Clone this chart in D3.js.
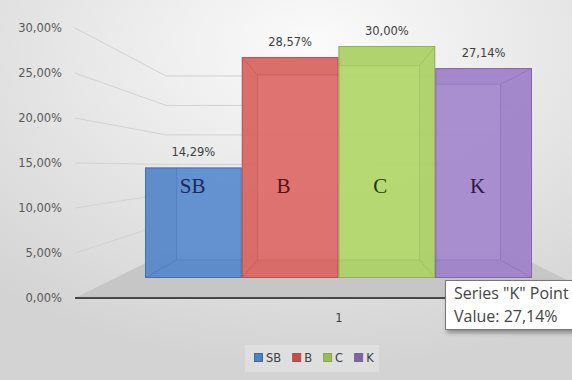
<!DOCTYPE html>
<html>
<head>
<meta charset="utf-8">
<script src="https://cdn.jsdelivr.net/npm/d3@7/dist/d3.min.js"></script>
<style>
  html, body { margin: 0; padding: 0; background: #fff; }
  svg { display: block; }
</style>
</head>
<body>
<div id="chart"></div>
<script>
// ---- data ----
const categories = ["SB", "B", "C", "K"];
const values = [14.29, 28.57, 30.00, 27.14];
const valueLabels = ["14,29%", "28,57%", "30,00%", "27,14%"];
const axisTicks = [0, 5, 10, 15, 20, 25, 30];
const axisTickLabels = ["0,00%", "5,00%", "10,00%", "15,00%", "20,00%", "25,00%", "30,00%"];
const xCategoryLabels = ["1"];
const fillColors = ["#5f8ecf", "#de6d6b", "#b4d76e", "#a68ace"];
const edgeColors = ["#3f69a6", "#b44b48", "#87a94b", "#7b5ea8"];
const legendColors = ["#4f81bd", "#c0504d", "#9bbb59", "#8064a2"];
const inkColors = ["#1b2a5c", "#561212", "#1f380c", "#2a1a40"];
const tooltipLines = ['Series "K" Point', "Value: 27,14%"];

const W = 572, H = 380;
const svg = d3.select("#chart").append("svg").attr("width", W).attr("height", H);

// background
const defs = svg.append("defs");
const bg = defs.append("radialGradient").attr("id", "bg")
  .attr("cx", "55%").attr("cy", "12%").attr("r", "85%");
bg.append("stop").attr("offset", "0%").attr("stop-color", "#fbfbfb");
bg.append("stop").attr("offset", "100%").attr("stop-color", "#d3d3d3");
svg.append("rect").attr("width", W).attr("height", H).attr("fill", "url(#bg)");
const sh = defs.append("filter").attr("id", "shadow").attr("x", "-20%").attr("y", "-20%").attr("width", "150%").attr("height", "160%");
sh.append("feDropShadow").attr("dx", 2).attr("dy", 3).attr("stdDeviation", 2).attr("flood-color", "#000").attr("flood-opacity", 0.35);

// ---- 3D-ish projection ----
const vp = [339, 167];           // vanishing point
const wallDepth = 0.655;         // back wall scale relative to axis plane
const barDepth = 0.837;          // bar back face relative to bar front
const proj = (p, f) => [vp[0] + f * (p[0] - vp[0]), vp[1] + f * (p[1] - vp[1])];

const yAxis = d3.scaleLinear().domain([0, 30]).range([298, 28]); // axis (front) plane
const axisLeft = 75, axisRight = 603;
const x = d3.scaleBand().domain(categories).range([145, 532]).paddingInner(0).paddingOuter(0);
const yBar = d3.scaleLinear().domain([0, 30]).range([278, 46]);

const line = d3.line();

// floor
const fl = [[axisLeft, yAxis(0)], [axisRight, yAxis(0)],
  proj([axisRight, yAxis(0)], wallDepth), proj([axisLeft, yAxis(0)], wallDepth)];
svg.append("path").attr("d", line(fl) + "Z").attr("fill", "#c6c6c6");

// gridlines: left wall + back wall
const grid = svg.append("g").attr("stroke", "#d2d2d2").attr("stroke-width", 1).attr("fill", "none");
axisTicks.forEach(v => {
  if (v === 0) return;
  const a = [axisLeft, yAxis(v)];
  const b = proj(a, wallDepth);
  const c = proj([axisRight, yAxis(v)], wallDepth);
  grid.append("path").attr("d", line([a, b, c]));
});

// axis labels
svg.append("g").selectAll("text").data(axisTicks).join("text")
  .attr("x", 62).attr("y", d => yAxis(d) + 4)
  .attr("text-anchor", "end")
  .attr("font-family", "DejaVu Sans, sans-serif").attr("font-size", 11.5)
  .attr("fill", "#595959")
  .text((d, i) => axisTickLabels[i]);

// front edge of floor
svg.append("line").attr("x1", axisLeft).attr("x2", axisRight)
  .attr("y1", yAxis(0)).attr("y2", yAxis(0))
  .attr("stroke", "#474747").attr("stroke-width", 2);

// bars
const bars = svg.append("g");
categories.forEach((c, i) => {
  const x0 = x(c), x1 = x(c) + x.bandwidth();
  const yt = yBar(values[i]), yb = yBar(0);
  const F = { tl: [x0, yt], tr: [x1, yt], br: [x1, yb], bl: [x0, yb] };
  const B = {};
  Object.keys(F).forEach(k => B[k] = proj(F[k], barDepth));
  defs.append("clipPath").attr("id", "clip" + i)
    .append("rect").attr("x", x0).attr("y", yt).attr("width", x1 - x0).attr("height", yb - yt);
  const g = bars.append("g");
  const inner = g.append("g").attr("clip-path", "url(#clip" + i + ")");
  // front face (main)
  inner.append("rect").attr("x", x0).attr("y", yt).attr("width", x1 - x0).attr("height", yb - yt)
    .attr("fill", fillColors[i]).attr("fill-opacity", 0.96);
  // side faces tint
  const faces = [
    [F.tl, B.tl, B.bl, F.bl],
    [F.tr, B.tr, B.br, F.br],
    [F.tl, F.tr, B.tr, B.tl],
    [F.bl, F.br, B.br, B.bl]
  ];
  faces.forEach(fc => inner.append("path").attr("d", line(fc) + "Z")
    .attr("fill", edgeColors[i]).attr("fill-opacity", 0.13));
  // back face outline and depth edges
  inner.append("path").attr("d", line([B.tl, B.tr, B.br, B.bl]) + "Z")
    .attr("fill", "none").attr("stroke", edgeColors[i]).attr("stroke-opacity", 0.35).attr("stroke-width", 1);
  ["tl", "tr", "br", "bl"].forEach(k => inner.append("line")
    .attr("x1", F[k][0]).attr("y1", F[k][1]).attr("x2", B[k][0]).attr("y2", B[k][1])
    .attr("stroke", edgeColors[i]).attr("stroke-opacity", 0.35));
  // front outline
  g.append("rect").attr("x", x0 + 0.5).attr("y", yt + 0.5).attr("width", x1 - x0 - 1).attr("height", yb - yt - 1)
    .attr("fill", "none").attr("stroke", edgeColors[i]).attr("stroke-width", 1).attr("stroke-opacity", 0.8);
  // in-bar label
  g.append("text").attr("x", x0 + x.bandwidth() * 0.36).attr("y", 193)
    .attr("font-family", "Liberation Serif, Times New Roman, serif").attr("font-size", 21)
    .attr("fill", inkColors[i]).text(c);
  // data label
  svg.append("text").attr("x", x0 + x.bandwidth() / 2).attr("y", yt - 11.5)
    .attr("text-anchor", "middle")
    .attr("font-family", "DejaVu Sans, sans-serif").attr("font-size", 11.5)
    .attr("fill", "#404040").text(valueLabels[i]);
});

// category label
svg.append("text").attr("x", 339).attr("y", 322).attr("text-anchor", "middle")
  .attr("font-family", "DejaVu Sans, sans-serif").attr("font-size", 11.5)
  .attr("fill", "#404040").text(xCategoryLabels[0]);

// legend
const lg = svg.append("g");
lg.append("rect").attr("x", 245).attr("y", 345).attr("width", 134).attr("height", 27)
  .attr("fill", "#ffffff").attr("fill-opacity", 0.25);
let lx = 254;
categories.forEach((c, i) => {
  lg.append("rect").attr("x", lx + 0.5).attr("y", 353.5).attr("width", 8).attr("height", 8)
    .attr("fill", legendColors[i]).attr("stroke", edgeColors[i]).attr("stroke-width", 1);
  const t = lg.append("text").attr("x", lx + 12).attr("y", 362)
    .attr("font-family", "DejaVu Sans, sans-serif").attr("font-size", 11.5)
    .attr("fill", "#404040").text(c);
  lx = lx + 12 + t.node().getComputedTextLength() + 11;
});

// tooltip
const tt = svg.append("g");
tt.append("rect").attr("x", 445.5).attr("y", 280.5).attr("width", 140).attr("height", 49)
  .attr("fill", "#ffffff").attr("stroke", "#767676").attr("stroke-width", 1).attr("filter", "url(#shadow)");
tooltipLines.forEach((s, i) => tt.append("text").attr("x", 454).attr("y", 299 + i * 23)
  .attr("font-family", "Open Sans, sans-serif").attr("font-size", 16)
  .attr("fill", "#444444").text(s));
</script>
</body>
</html>
